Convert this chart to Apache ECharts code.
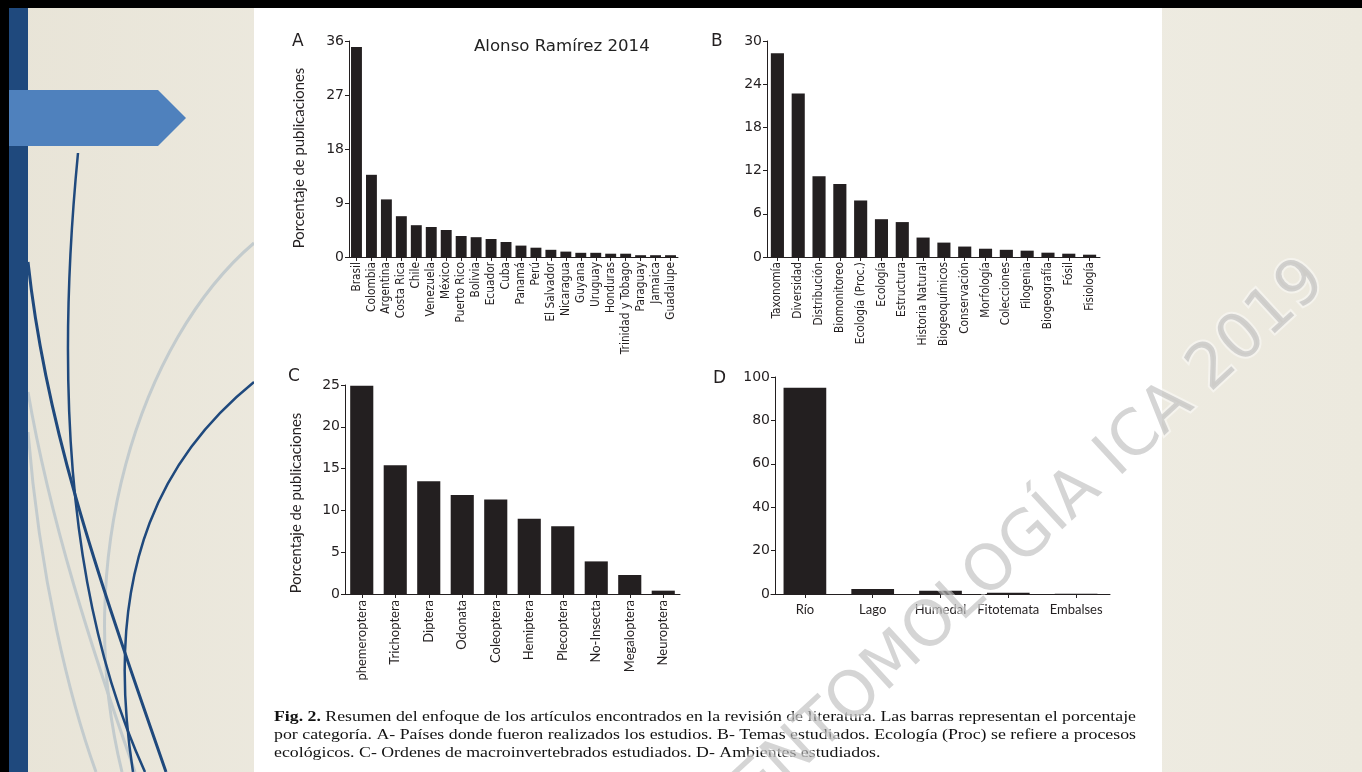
<!DOCTYPE html>
<html><head><meta charset="utf-8">
<script src="https://cdn.jsdelivr.net/npm/echarts@6/dist/echarts.min.js"></script>
<style>html,body{margin:0;padding:0;background:#ebe8dd;}#c{width:1362px;height:772px;}</style>
</head><body><div id="c"></div>
<script>
// ---------- DATA ----------
const catA = ['Brasil','Colombia','Argentina','Costa Rica','Chile','Venezuela','México','Puerto Rico','Bolivia','Ecuador','Cuba','Panamá','Perú','El Salvador','Nicaragua','Guyana','Uruguay','Honduras','Trinidad y Tobago','Paraguay','Jamaica','Guadalupe'];
const valA = [35.0,13.7,9.6,6.8,5.3,5.0,4.5,3.5,3.3,3.0,2.5,1.9,1.55,1.2,0.9,0.7,0.7,0.55,0.55,0.3,0.3,0.3];
const ticksA = [0,9,18,27,36];

const catB = ['Taxonomía','Diversidad','Distribución','Biomonitoreo','Ecología (Proc.)','Ecología','Estructura','Historia Natural','Biogeoquímicos','Conservación','Morfología','Colecciones','Filogenia','Biogeografía','Fósil','Fisiología'];
const valB = [28.3,22.7,11.2,10.15,7.85,5.25,4.85,2.7,2.0,1.45,1.15,1.0,0.88,0.6,0.46,0.32];
const ticksB = [0,6,12,18,24,30];

const catC = ['phemeroptera','Trichoptera','Diptera','Odonata','Coleoptera','Hemiptera','Plecoptera','No-Insecta','Megaloptera','Neuroptera'];
const valC = [24.9,15.4,13.5,11.85,11.3,9.0,8.1,3.9,2.27,0.4];
const ticksC = [0,5,10,15,20,25];

const catD = ['Río','Lago','Humedal','Fitotemata','Embalses'];
const valD = [95,2.3,1.5,0.6,0.15];
const ticksD = [0,20,40,60,80,100];

const panelLetters = ['A','B','C','D'];
const yName = 'Porcentaje de publicaciones';
const credit = 'Alonso Ramírez 2014';
const captionBold = 'Fig. 2.';
const captionL1 = ' Resumen del enfoque de los artículos encontrados en la revisión de literatura. Las barras representan el porcentaje';
const captionL2 = 'por categoría. A- Países donde fueron realizados los estudios. B- Temas estudiados. Ecología (Proc) se refiere a procesos';
const captionL3 = 'ecológicos. C- Ordenes de macroinvertebrados estudiados. D- Ambientes estudiados.';
const watermark = 'ENTOMOLOGÍA ICA 2019';

// ---------- STYLE ----------
const INK = '#231f20';
const numFont = "'DejaVu Sans', sans-serif";
const narrowFont = "'Liberation Sans Narrow', 'DejaVu Sans Condensed', 'Roboto', sans-serif";
const labFont = "'Lato', 'Open Sans', sans-serif";
const serif = "'Liberation Serif', 'DejaVu Serif', serif";

function measure(text, font){
  const ctx = document.createElement('canvas').getContext('2d');
  ctx.font = font; return ctx.measureText(text).width;
}

const grids = [
  {left:349, top:41, width:329, height:216},
  {left:767, top:41, width:333, height:216},
  {left:345, top:385, width:335, height:209},
  {left:771, top:377, width:339, height:217}
];
const yOffsets = [0,0,0,-4];
const cats = [catA,catB,catC,catD];
const vals = [valA,valB,valC,valD];
const ticks = [ticksA,ticksB,ticksC,ticksD];
const gaps = ['27%','37%','31%','37%'];
const xLab = [
  {rotate:90, fontSize:11.8, fontFamily:narrowFont, margin:5},
  {rotate:90, fontSize:11.8, fontFamily:narrowFont, margin:5},
  {rotate:90, fontSize:13, fontFamily:labFont, margin:6},
  {rotate:0, fontSize:13, fontFamily:labFont, margin:9}
];

const xAxis = [], yAxis = [], series = [];
for (let i=0;i<4;i++){
  xAxis.push({
    type:'category', gridIndex:i, data:cats[i], z:10,
    axisLine:{show:true, lineStyle:{color:INK, width:1}},
    axisTick:{show:true, alignWithLabel:true, length:4, lineStyle:{color:INK}},
    axisLabel:Object.assign({interval:0, color:INK}, xLab[i])
  });
  const t = ticks[i];
  yAxis.push({
    type:'value', gridIndex:i, z:10, offset:yOffsets[i],
    min:t[0], max:t[t.length-1], interval:t[1]-t[0],
    splitLine:{show:false},
    axisLine:{show:true, lineStyle:{color:INK, width:1}},
    axisTick:{show:true, length:4, lineStyle:{color:INK}},
    axisLabel:{color:INK, fontSize:14, fontFamily:numFont, margin:5}
  });
  series.push({
    type:'bar', xAxisIndex:i, yAxisIndex:i, data:vals[i], z:5,
    barCategoryGap:gaps[i], itemStyle:{color:INK}, silent:true
  });
}

// caption scaling
const capFont = '14px ' + serif;
const capFontB = 'bold 14px ' + serif;
const capX = 274, capR = 1136;
const wB = measure(captionBold, capFontB), w1 = measure(captionL1, capFont);
const s1 = (capR-capX)/(wB+w1);
const s2 = (capR-capX)/measure(captionL2, capFont);
const s3 = (s1+s2)/2;

function curve(p, color, w){
  return {type:'bezierCurve', z:1, silent:true,
    shape:{x1:p[0],y1:p[1],cpx1:p[2],cpy1:p[3],cpx2:p[4],cpy2:p[5],x2:p[6],y2:p[7]},
    style:{fill:null, stroke:color, lineWidth:w}};
}
const BLUE='#1f497d', GRAY='#c3cbcd';
const wmRot = 42.7*Math.PI/180;
const wmStyle = {text:watermark, font:'63px '+numFont, textAlign:'center', textVerticalAlign:'middle'};
const yNameFont = '14.8px ' + labFont;

const graphic = [
  {type:'rect', z:0, silent:true, shape:{x:0,y:0,width:1362,height:772},
   style:{fill:new echarts.graphic.LinearGradient(0,0,1,0,[{offset:0,color:'#e8e4d7'},{offset:0.5,color:'#f1efe7'},{offset:1,color:'#ece9de'}])}},
  curve([254,243, 140,340, 70,560, 122,772], GRAY, 3),
  curve([28,392, 50,520, 92,650, 135,772], GRAY, 3),
  curve([28,432, 40,580, 70,700, 96,772], GRAY, 3),
  curve([78,153, 56,380, 66,600, 145,772], BLUE, 2.5),
  curve([28,262, 45,420, 92,560, 166,772], BLUE, 3),
  curve([254,382, 170,450, 100,560, 133,772], BLUE, 2.5),
  {type:'rect', z:1, silent:true, shape:{x:0,y:0,width:1362,height:8}, style:{fill:'#000'}},
  {type:'rect', z:1, silent:true, shape:{x:0,y:0,width:9,height:772}, style:{fill:'#000'}},
  {type:'rect', z:1, silent:true, shape:{x:9,y:8,width:19,height:764}, style:{fill:BLUE}},
  {type:'polygon', z:1, silent:true, shape:{points:[[9,90],[158,90],[186,118],[158,146],[9,146]]}, style:{fill:'#4f81bd'}},
  {type:'rect', z:1, silent:true, shape:{x:254,y:8,width:908,height:764}, style:{fill:'#ffffff'}},
  // y-axis names
  {type:'text', z:5, x:299, y:158, rotation:Math.PI/2, style:{text:yName, font:yNameFont, fill:INK, textAlign:'center', textVerticalAlign:'middle'}},
  {type:'text', z:5, x:296, y:503, rotation:Math.PI/2, style:{text:yName, font:yNameFont, fill:INK, textAlign:'center', textVerticalAlign:'middle'}},
  // panel letters
  {type:'text', z:5, x:292, y:42, style:{text:panelLetters[0], font:'17px '+numFont, fill:INK, textAlign:'left', textVerticalAlign:'middle'}},
  {type:'text', z:5, x:711, y:42, style:{text:panelLetters[1], font:'17px '+numFont, fill:INK, textAlign:'left', textVerticalAlign:'middle'}},
  {type:'text', z:5, x:288, y:377, style:{text:panelLetters[2], font:'17px '+numFont, fill:INK, textAlign:'left', textVerticalAlign:'middle'}},
  {type:'text', z:5, x:713, y:379, style:{text:panelLetters[3], font:'17px '+numFont, fill:INK, textAlign:'left', textVerticalAlign:'middle'}},
  {type:'text', z:5, x:474, y:47, style:{text:credit, font:'16.6px '+numFont, fill:'#222', textAlign:'left', textVerticalAlign:'middle'}},
  // caption
  {type:'text', z:5, x:capX, y:717, scaleX:s1, style:{text:captionBold, font:capFontB, fill:'#111', textAlign:'left', textVerticalAlign:'middle'}},
  {type:'text', z:5, x:capX+wB*s1, y:717, scaleX:s1, style:{text:captionL1, font:capFont, fill:'#111', textAlign:'left', textVerticalAlign:'middle'}},
  {type:'text', z:5, x:capX, y:735, scaleX:s2, style:{text:captionL2, font:capFont, fill:'#111', textAlign:'left', textVerticalAlign:'middle'}},
  {type:'text', z:5, x:capX, y:753, scaleX:s3, style:{text:captionL3, font:capFont, fill:'#111', textAlign:'left', textVerticalAlign:'middle'}},
  // watermark: faint white halo then grey fill
  {type:'text', z:100, x:1031, y:536, rotation:wmRot, silent:true,
   style:Object.assign({fill:'rgba(255,255,255,0.35)', stroke:'rgba(255,255,255,0.45)', lineWidth:4}, wmStyle)},
  {type:'text', z:101, x:1031, y:536, rotation:wmRot, silent:true,
   style:Object.assign({fill:'rgba(150,150,150,0.4)'}, wmStyle)}
];

const chart = echarts.init(document.getElementById('c'), null, {renderer:'canvas'});
chart.setOption({
  animation:false,
  grid:grids, xAxis:xAxis, yAxis:yAxis, series:series, graphic:graphic
});
</script>
</body></html>
